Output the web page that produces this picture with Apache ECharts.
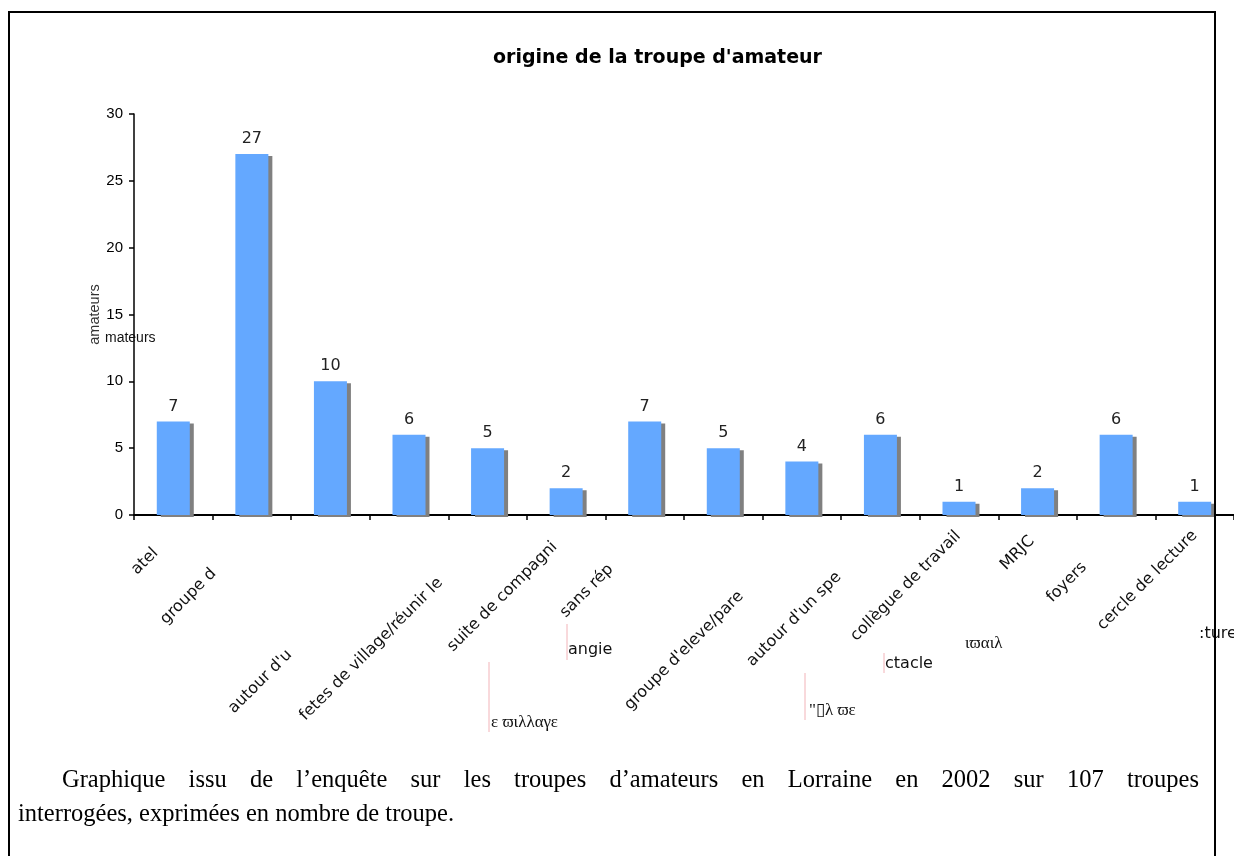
<!DOCTYPE html>
<html><head><meta charset="utf-8">
<script src="https://cdn.jsdelivr.net/npm/echarts@6/dist/echarts.min.js"></script>
<style>html,body{margin:0;padding:0;background:#fff}#c{width:1234px;height:856px}</style>
</head><body><div id="c"></div>
<script>
// ---- data ----
const categories = ['atel', 'groupe d', ' ', "autour d'u", 'fetes de village/réunir le', 'suite de compagni', 'sans rép', '  ', "groupe d'eleve/pare", "autour d'un spe", 'collègue de travail', 'MRJC', 'foyers', 'cercle de lecture'];
const values = [7, 27, 10, 6, 5, 2, 7, 5, 4, 6, 1, 2, 6, 1];
const yTickValues = [0, 5, 10, 15, 20, 25, 30];
const titleText = "origine de la troupe d'amateur";
const yAxisName = 'amateurs';
const captionLine1 = 'Graphique issu de l’enquête sur les troupes d’amateurs en Lorraine en 2002 sur 107 troupes';
const captionLine2 = 'interrogées, exprimées en nombre de troupe.';
const strayTexts = ['mateurs', 'angie', 'ε ϖιλλαγε', '"▯λ ϖε', 'ctacle', 'ιϖαιλ', ':ture'];

// ---- layout (not data) ----
const labelShift = [25, 54, 0, 169, 67, 16, 48, 0, 86, 59, 1, 8, 45, 0];
const sans = '"DejaVu Sans", Verdana, sans-serif';
const arial = '"Liberation Sans", Arial, sans-serif';
const serif = '"Liberation Serif", "Times New Roman", serif';

const chart = echarts.init(document.getElementById('c'), null, {renderer: 'canvas'});

// justified caption line 1
const capSize = 24.5;
const mctx = document.createElement('canvas').getContext('2d');
mctx.font = capSize + 'px "Liberation Serif"';
const words = captionLine1.split(' ');
const wordsW = words.reduce((s, w) => s + mctx.measureText(w).width, 0);
const capX0 = 62, capX1 = 1199;
const gap = (capX1 - capX0 - wordsW) / (words.length - 1);
const richLine1 = words.map(w => '{w|' + w + '}').join('{s| }');

const pink = '#f2b3b8';
function stray(txt, x, y, font, size) {
  return {type: 'text', x: x, y: y, z: 50, style: {text: txt, font: size + 'px ' + font, fill: '#111', verticalAlign: 'middle'}};
}
function pline(x, y1, y2) {
  return {type: 'line', z: 49, shape: {x1: x, y1: y1, x2: x, y2: y2}, style: {stroke: pink, lineWidth: 1}};
}

chart.setOption({
  animation: false,
  backgroundColor: '#fff',
  title: {
    text: titleText, left: 488, top: 44,
    textStyle: {fontFamily: sans, fontWeight: 'bold', fontSize: 19, color: '#000'}
  },
  grid: {left: 134, top: 114, width: 1106, height: 401, containLabel: false},
  xAxis: {
    type: 'category',
    data: categories.map((c, i) => ({value: c, textStyle: {padding: [0, labelShift[i], 0, 0]}})),
    axisLine: {lineStyle: {color: '#000', width: 2}, onZero: false},
    axisTick: {show: true, length: 5, lineStyle: {color: '#000', width: 1.5}, alignWithLabel: false},
    axisLabel: {interval: 0, rotate: 45, margin: 18, fontFamily: sans, fontSize: 16, color: '#111', hideOverlap: false}
  },
  yAxis: {
    type: 'value', min: yTickValues[0], max: yTickValues[yTickValues.length - 1], interval: 5,
    name: yAxisName, nameLocation: 'middle', nameGap: 32, nameMoveOverlap: false,
    nameTextStyle: {fontFamily: arial, fontSize: 14.5, color: '#333'},
    axisLine: {show: true, lineStyle: {color: '#000', width: 1.5}},
    axisTick: {show: true, length: 5, lineStyle: {color: '#000', width: 1.5}},
    axisLabel: {margin: 11, fontFamily: arial, fontSize: 15, color: '#000'},
    splitLine: {show: false}
  },
  series: [{
    type: 'bar',
    data: values,
    barWidth: 33,
    itemStyle: {color: '#64a8ff', shadowColor: '#808080', shadowOffsetX: 4, shadowOffsetY: 2, shadowBlur: 0},
    label: {show: true, position: 'top', distance: 7, fontFamily: sans, fontSize: 16, color: '#222'}
  }],
  graphic: [
    {type: 'rect', z: 100, shape: {x: 9, y: 12, width: 1206, height: 900}, style: {fill: 'none', stroke: '#000', lineWidth: 2}},
    stray(strayTexts[0], 105, 338, arial, 14),
    pline(567, 624, 660), stray(strayTexts[1], 568, 650, sans, 16),
    pline(489, 662, 732), stray(strayTexts[2], 491, 723, serif, 17),
    pline(805, 673, 720), stray(strayTexts[3], 809, 711, serif, 17),
    pline(884, 653, 673), stray(strayTexts[4], 885, 664, sans, 16),
    stray(strayTexts[5], 965, 644, serif, 17),
    stray(strayTexts[6], 1199, 634, sans, 16),
    {type: 'text', x: capX0, y: 781, z: 50, style: {
      text: richLine1, verticalAlign: 'middle', fill: '#000',
      rich: {w: {font: capSize + 'px ' + serif, fill: '#000'}, s: {width: gap, font: capSize + 'px ' + serif}}
    }},
    {type: 'text', x: 18, y: 815, z: 50, style: {text: captionLine2, font: capSize + 'px ' + serif, fill: '#000', verticalAlign: 'middle'}}
  ]
});
</script>
</body></html>
